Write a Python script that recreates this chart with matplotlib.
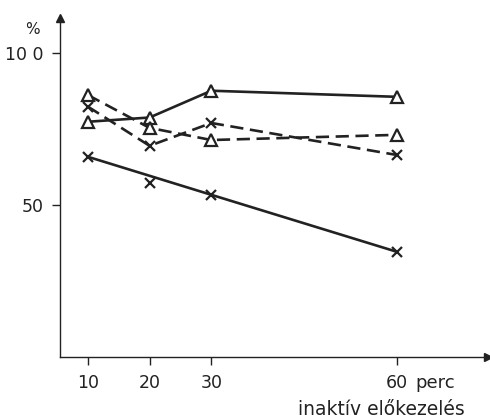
import matplotlib.pyplot as plt

# Data (minutes, %)
minutes = [10, 20, 30, 60]
solid_tri = [77.3, 78.7, 87.5, 85.5]
dashed_tri = [86.1, 75.3, 71.3, 73.0]
dashed_x = [82.3, 69.4, 76.9, 66.4]
solid_x = [65.8, 57.2, 53.3, 34.6]
# the solid x-line is a fitted straight line, the 20 min point lies off it
fit_minutes = [10, 30, 60]
fit_values = [65.8, 53.3, 34.6]

xticks = [10, 20, 30, 60]
yticks = [50, 100]
ytick_labels = ["50", "10 0"]

ink = "#222222"
plt.rcParams["font.family"] = "DejaVu Sans"

fig = plt.figure(figsize=(4.9, 4.18), dpi=100)
ax = fig.add_axes([60 / 490, 61 / 418, 428 / 490, 339 / 418])

lw = 1.9
dash = (0, (5, 2.5))
ax.plot(minutes, solid_tri, color=ink, lw=lw, marker="^", ms=8,
        mfc="white", mec=ink, mew=1.6, zorder=3)
ax.plot(minutes, dashed_tri, color=ink, lw=lw, ls=dash, marker="^", ms=8,
        mfc="white", mec=ink, mew=1.6, zorder=3)
ax.plot(minutes, dashed_x, color=ink, lw=lw, ls=dash, marker="x", ms=7,
        mec=ink, mew=1.6, zorder=3)
ax.plot(fit_minutes, fit_values, color=ink, lw=lw, zorder=2)
ax.plot(minutes, solid_x, ls="none", marker="x", ms=7, mec=ink, mew=1.6, zorder=3)

ax.set_xlim(5.5, 74.8)
ax.set_ylim(0, 111.4)

for side in ("top", "right"):
    ax.spines[side].set_visible(False)
for side in ("left", "bottom"):
    ax.spines[side].set_color(ink)
    ax.spines[side].set_linewidth(1.0)

# arrow heads on the axes
ax.plot(1, 0, ">", color=ink, ms=6, transform=ax.transAxes, clip_on=False)
ax.plot(0, 1, "^", color=ink, ms=6, transform=ax.transAxes, clip_on=False)

ax.set_xticks(xticks)
ax.set_xticklabels([str(t) for t in xticks])
ax.set_yticks(yticks)
ax.set_yticklabels(ytick_labels)
ax.tick_params(direction="out", length=6, width=1.0, color=ink,
               labelsize=12.5, labelcolor=ink, pad=6)

ax.text(63.0, -10.3, "perc", fontsize=13, color=ink, ha="left",
        va="baseline", clip_on=False)
ax.text(57.5, -18.9, "inaktív előkezelés", fontsize=13.5, color=ink,
        ha="center", va="baseline", clip_on=False)
ax.text(1.0, 107.5, "%", fontsize=11, color=ink, ha="center",
        va="center", clip_on=False)

fig.savefig("out.png", dpi=100)
